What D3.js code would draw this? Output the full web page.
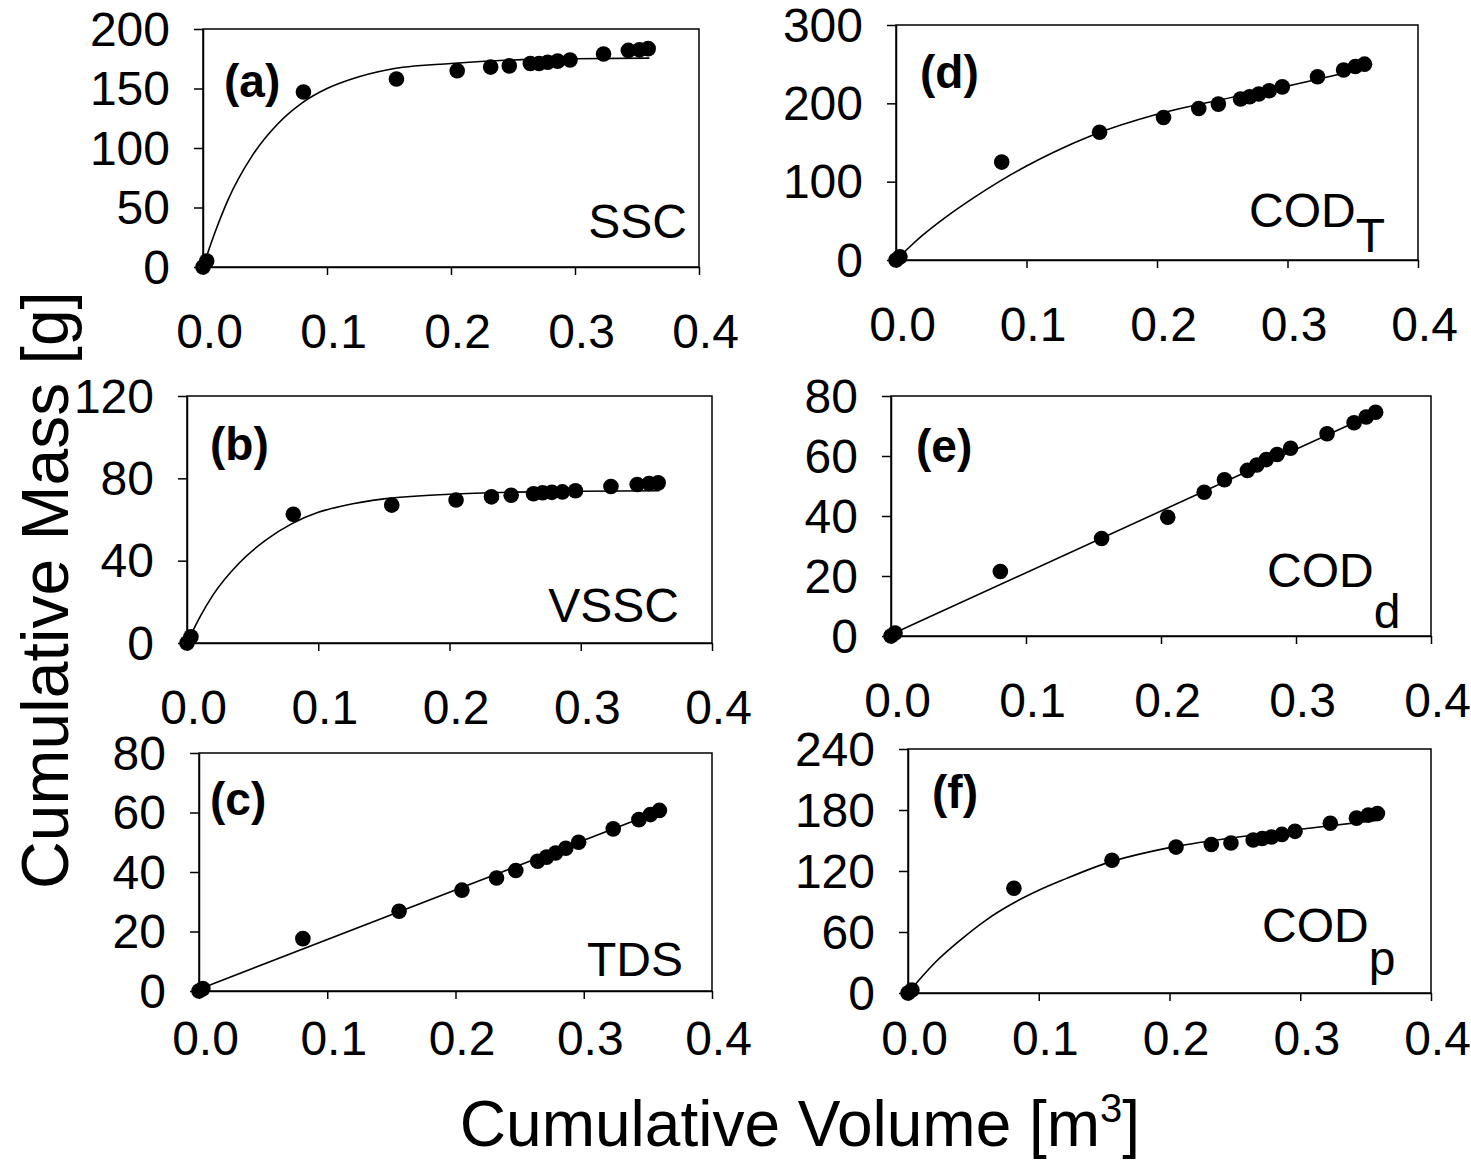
<!DOCTYPE html>
<html>
<head>
<meta charset="utf-8">
<script src="https://cdn.jsdelivr.net/npm/d3@7"></script>
<style>
  body { margin: 0; background: #fff; }
  text { font-family: "Liberation Sans", Arial, sans-serif; fill: #000; }
</style>
</head>
<body>
<div id="chart"></div>
<script>
// Cumulative volume at each sample [m3] (shared by all panels)
var volume = [0, 0.003, 0.081, 0.156, 0.205, 0.232, 0.247, 0.264, 0.271, 0.278, 0.286, 0.296, 0.323, 0.343, 0.352, 0.359];

// Measured cumulative mass [g]
var ssc  = [0, 5, 147, 158, 165, 168, 169, 171, 171, 172, 173, 174, 179, 182, 182.5, 183.5];
var vssc = [0, 3, 62.5, 67, 69.5, 71, 71.8, 72.5, 73, 73.2, 73.4, 74, 76, 77, 77.5, 77.8];
var tds  = [0, 0.8, 17.6, 26.8, 33.9, 38, 40.5, 43.6, 45, 46.4, 48, 50, 54.5, 57.6, 59.3, 60.7];
var codT = [0, 4, 125, 163, 182, 193.5, 199, 205.5, 208.5, 212, 216, 221, 234, 242.5, 247, 250];
var codD = [0, 1, 21.5, 32.5, 39.6, 47.9, 52.1, 55.2, 57, 58.8, 60.5, 62.6, 67.4, 71.1, 73, 74.6];
var codP = [0, 3, 103, 130.5, 143.5, 146, 147.5, 150.5, 152, 153.5, 156, 159, 167, 172, 175, 176.5];

// Fitted curves
var fitX    = [0, 0.01, 0.02, 0.04, 0.06, 0.08, 0.1, 0.12, 0.15, 0.2, 0.25, 0.3, 0.36];
var sscFit  = [0, 30, 56, 94, 120, 138, 150, 158, 166, 171, 174, 175, 175.5];
var vsscFit = [0, 12.8, 23.5, 39, 50, 58, 63.5, 66.8, 70, 72.3, 73.3, 73.7, 74];
var codTFit = [0, 16, 31, 57, 80, 101, 120, 137, 159, 186, 205, 222, 245];
var codPFit = [0, 15, 29, 52, 72, 88, 101, 112, 127, 143, 153, 161, 170];
var lineX    = [0, 0.36];
var tdsLine  = [0.6, 60.7];
var codDLine = [0.5, 74.6];

// Axis ticks
var xTicks = [0, 0.1, 0.2, 0.3, 0.4];
var sscTicks  = [0, 50, 100, 150, 200];
var vsscTicks = [0, 40, 80, 120];
var tdsTicks  = [0, 20, 40, 60, 80];
var codTTicks = [0, 100, 200, 300];
var codDTicks = [0, 20, 40, 60, 80];
var codPTicks = [0, 60, 120, 180, 240];

var panelTags = ["(a)", "(b)", "(c)", "(d)", "(e)", "(f)"];

var width = 1471, height = 1164;

var svg = d3.select("#chart").append("svg")
    .attr("width", width)
    .attr("height", height);

// Panel layout: plot box in page pixels
var panels = [
    { box: [203, 29, 699, 267],  dots: ssc,  fx: fitX,  fy: sscFit,   ticks: sscTicks,  tag: panelTags[0], tagPos: [224, 97],
      name: "SSC", sub: null, namePos: [687, 238], pad: 39 },
    { box: [187, 396, 712, 643], dots: vssc, fx: fitX,  fy: vsscFit,  ticks: vsscTicks, tag: panelTags[1], tagPos: [210, 460],
      name: "VSSC", sub: null, namePos: [679, 622], pad: 39 },
    { box: [199, 753, 712, 991], dots: tds,  fx: lineX, fy: tdsLine,  ticks: tdsTicks,  tag: panelTags[2], tagPos: [210, 815],
      name: "TDS", sub: null, namePos: [683, 976], pad: 22 },
    { box: [896, 25, 1418, 260], dots: codT, fx: fitX,  fy: codTFit,  ticks: codTTicks, tag: panelTags[3], tagPos: [920, 88],
      name: "COD", sub: "T", subDy: 25, namePos: [1249, 227], pad: 39 },
    { box: [891, 396, 1431, 636], dots: codD, fx: lineX, fy: codDLine, ticks: codDTicks, tag: panelTags[4], tagPos: [916, 462],
      name: "COD", sub: "d", subDy: 41, namePos: [1267, 587], pad: 39 },
    { box: [908, 749, 1431, 993], dots: codP, fx: fitX,  fy: codPFit,  ticks: codPTicks, tag: panelTags[5], tagPos: [932, 808],
      name: "COD", sub: "p", subDy: 33, namePos: [1262, 942], pad: 20 }
];

panels.forEach(function (p) {
    var x0 = p.box[0], y0 = p.box[1], x1 = p.box[2], y1 = p.box[3];
    var g = svg.append("g").attr("transform", "translate(" + x0 + "," + y0 + ")");
    var w = x1 - x0, h = y1 - y0;

    var x = d3.scaleLinear().domain([0, 0.4]).range([0, w]);
    var y = d3.scaleLinear().domain([0, d3.max(p.ticks)]).range([h, 0]);

    // frame (top and right sides)
    g.append("rect")
        .attr("width", w).attr("height", h)
        .attr("fill", "none").attr("stroke", "#000").attr("stroke-width", 1.5);

    var yAxis = g.append("g")
        .call(d3.axisLeft(y).tickValues(p.ticks).tickSize(9).tickSizeOuter(0).tickPadding(24));
    yAxis.selectAll("text").attr("font-size", "48px").attr("dy", "0.34em");

    var xAxis = g.append("g")
        .attr("transform", "translate(0," + h + ")")
        .call(d3.axisBottom(x).tickValues(xTicks).tickFormat(d3.format(".1f"))
            .tickSize(8).tickSizeOuter(0).tickPadding(p.pad));
    xAxis.selectAll("text").attr("font-size", "48px").attr("x", 6);

    [yAxis, xAxis].forEach(function (a) {
        a.select(".domain").attr("stroke-width", 1.5);
        a.selectAll(".tick line").attr("stroke-width", 1.5);
        a.selectAll("text").style("font-family", "'Liberation Sans', Arial, sans-serif");
    });

    // fitted line
    var fit = p.fx.map(function (v, i) { return [v, p.fy[i]]; });
    g.append("path")
        .datum(fit)
        .attr("fill", "none")
        .attr("stroke", "#000")
        .attr("stroke-width", 1.6)
        .attr("d", d3.line()
            .x(function (d) { return x(d[0]); })
            .y(function (d) { return y(d[1]); })
            .curve(d3.curveMonotoneX));

    // measured points
    g.selectAll("circle.pt")
        .data(volume.map(function (v, i) { return [v, p.dots[i]]; }))
        .enter()
        .append("circle")
        .attr("class", "pt")
        .attr("cx", function (d) { return x(d[0]); })
        .attr("cy", function (d) { return y(d[1]); })
        .attr("r", 7.8)
        .attr("fill", "#000");

    // panel tag
    svg.append("text")
        .attr("x", p.tagPos[0]).attr("y", p.tagPos[1])
        .attr("font-size", "46px").attr("font-weight", "bold")
        .text(p.tag);

    // parameter name
    if (p.sub) {
        var t = svg.append("text")
            .attr("x", p.namePos[0]).attr("y", p.namePos[1])
            .attr("font-size", "48px");
        t.append("tspan").text(p.name);
        t.append("tspan").attr("dy", p.subDy).text(p.sub);
    } else {
        svg.append("text")
            .attr("x", p.namePos[0]).attr("y", p.namePos[1])
            .attr("text-anchor", "end")
            .attr("font-size", "48px")
            .text(p.name);
    }
});

// Axis titles
svg.append("text")
    .attr("transform", "translate(68,590) rotate(-90)")
    .attr("text-anchor", "middle")
    .attr("font-size", "66px")
    .text("Cumulative Mass [g]");

var xt = svg.append("text")
    .attr("x", 800).attr("y", 1146)
    .attr("text-anchor", "middle")
    .attr("font-size", "64px");
xt.append("tspan").text("Cumulative Volume [m");
xt.append("tspan").attr("dy", -24).attr("font-size", "40px").text("3");
xt.append("tspan").attr("dy", 24).text("]");
</script>
</body>
</html>
